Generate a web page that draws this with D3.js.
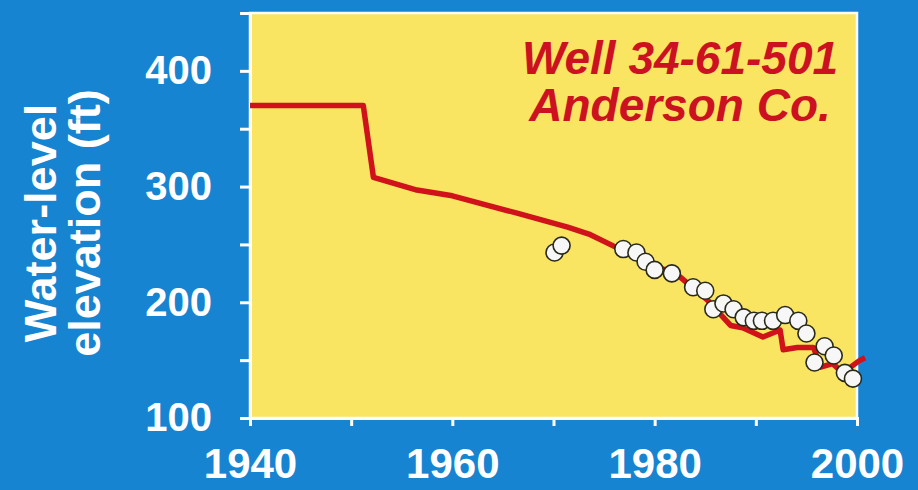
<!DOCTYPE html>
<html>
<head>
<meta charset="utf-8">
<script src="https://cdn.jsdelivr.net/npm/d3@7"></script>
<style>
    body { margin: 0; background: #1784d2; }
    #chart-area { width: 918px; height: 490px; }
    .axis text { font-family: "Liberation Sans", Arial, sans-serif; font-weight: bold; fill: #fff; }
</style>
</head>
<body>
<div id="chart-area"></div>
<script>

// simulated water level (red line)
let simYears = [1940, 1951.2, 1952.2, 1956.5, 1960, 1966.4, 1971.4, 1973.5, 1976.3, 1979, 1982.5, 1985.2,
    1987.5, 1988.7, 1990.7, 1992.4, 1992.7, 1994.1, 1995.7, 1996.4, 1997.6, 1998.6, 2000.3, 2000.8];
let simLevels = [370, 370, 308, 297, 292, 277, 265, 259, 247, 236, 222, 202,
    180, 178, 170, 176, 159, 161, 161, 144, 147, 139, 150, 152];

// measured water level (white dots)
let obsYears = [1970.1, 1970.8, 1976.9, 1978.2, 1979.1, 1980.0, 1981.7, 1983.8, 1985.0, 1985.8, 1986.8, 1987.8,
    1988.8, 1989.8, 1990.6, 1991.7, 1992.9, 1994.2, 1995.0, 1995.8, 1996.8, 1997.7, 1998.8, 1999.6];
let obsLevels = [243, 249, 246, 243, 235, 228, 225, 213, 210, 194, 199, 194,
    187, 184, 184, 184, 189, 184, 173, 148, 162, 154, 139, 134];

// axis ticks
let xTicks = [1940, 1950, 1960, 1970, 1980, 1990, 2000];
let xLabels = [1940, 1960, 1980, 2000];
let yTicks = [100, 150, 200, 250, 300, 350, 400, 450];
let yLabels = [100, 200, 300, 400];

let titleLines = ["Water-level", "elevation (ft)"];
let wellLines = ["Well 34-61-501", "Anderson Co."];

class WellChart {
    constructor(parentElement) {
        this.parentElement = parentElement;
        this.initVis();
    }

    initVis() {
        let vis = this;

        vis.margin = {top: 13, right: 61, bottom: 72, left: 250};
        vis.width = 918 - vis.margin.left - vis.margin.right;
        vis.height = 490 - vis.margin.top - vis.margin.bottom;

        vis.svg = d3.select("#" + vis.parentElement).append("svg")
            .attr("width", 918)
            .attr("height", 490);

        vis.g = vis.svg.append("g")
            .attr("transform", `translate(${vis.margin.left}, ${vis.margin.top})`);

        vis.x = d3.scaleLinear().domain([1940, 2000]).range([0, vis.width]);
        vis.y = d3.scaleLinear().domain([100, 450]).range([vis.height, 0]);

        // yellow plot area with white frame
        vis.g.append("rect")
            .attr("width", vis.width)
            .attr("height", vis.height)
            .attr("fill", "#f9e562")
            .attr("stroke", "#fff")
            .attr("stroke-width", 2.5);

        // axes
        vis.xAxis = d3.axisBottom(vis.x)
            .tickValues(xTicks)
            .tickSize(8)
            .tickPadding(22)
            .tickFormat(d => xLabels.includes(d) ? d : "");

        vis.yAxis = d3.axisLeft(vis.y)
            .tickValues(yTicks)
            .tickSize(10)
            .tickPadding(28)
            .tickFormat(d => yLabels.includes(d) ? d : "");

        vis.g.append("g")
            .attr("class", "axis")
            .attr("transform", `translate(0, ${vis.height})`)
            .call(vis.xAxis)
            .call(g => g.selectAll("text").style("font-size", "42px"));

        vis.g.append("g")
            .attr("class", "axis")
            .call(vis.yAxis)
            .call(g => g.selectAll("text").style("font-size", "40px"));

        vis.g.selectAll(".axis path, .axis line")
            .attr("stroke", "#fff")
            .attr("stroke-width", 3);

        // y title, two rotated lines
        vis.svg.append("g")
            .selectAll("text")
            .data(titleLines)
            .enter().append("text")
            .attr("transform", (d, i) => `translate(${56 + i * 44}, 223) rotate(-90)`)
            .attr("text-anchor", "middle")
            .attr("font-family", "Liberation Sans, Arial, sans-serif")
            .attr("font-weight", "bold")
            .attr("font-size", 45)
            .attr("fill", "#fff")
            .text(d => d);

        // well name
        vis.g.append("g")
            .selectAll("text")
            .data(wellLines)
            .enter().append("text")
            .attr("x", 430)
            .attr("y", (d, i) => 61 + i * 47)
            .attr("text-anchor", "middle")
            .attr("font-family", "Liberation Sans, Arial, sans-serif")
            .attr("font-weight", "bold")
            .attr("font-style", "italic")
            .attr("font-size", 46)
            .attr("fill", "#cc1220")
            .text(d => d);

        vis.wrangleData();
    }

    wrangleData() {
        let vis = this;

        vis.simData = simYears.map((d, i) => ({year: d, level: simLevels[i]}));
        vis.obsData = obsYears.map((d, i) => ({year: d, level: obsLevels[i]}));

        vis.updateVis();
    }

    updateVis() {
        let vis = this;

        vis.line = d3.line()
            .x(d => vis.x(d.year))
            .y(d => vis.y(d.level));

        vis.g.append("path")
            .datum(vis.simData)
            .attr("d", vis.line)
            .attr("fill", "none")
            .attr("stroke", "#d0121b")
            .attr("stroke-width", 5.5)
            .attr("stroke-linejoin", "round");

        vis.g.selectAll(".obs")
            .data(vis.obsData)
            .enter().append("circle")
            .attr("class", "obs")
            .attr("cx", d => vis.x(d.year))
            .attr("cy", d => vis.y(d.level))
            .attr("r", 8.5)
            .attr("fill", "#f7f7f7")
            .attr("stroke", "#2a2a1a")
            .attr("stroke-width", 1.6);
    }
}

new WellChart("chart-area");
</script>
</body>
</html>
